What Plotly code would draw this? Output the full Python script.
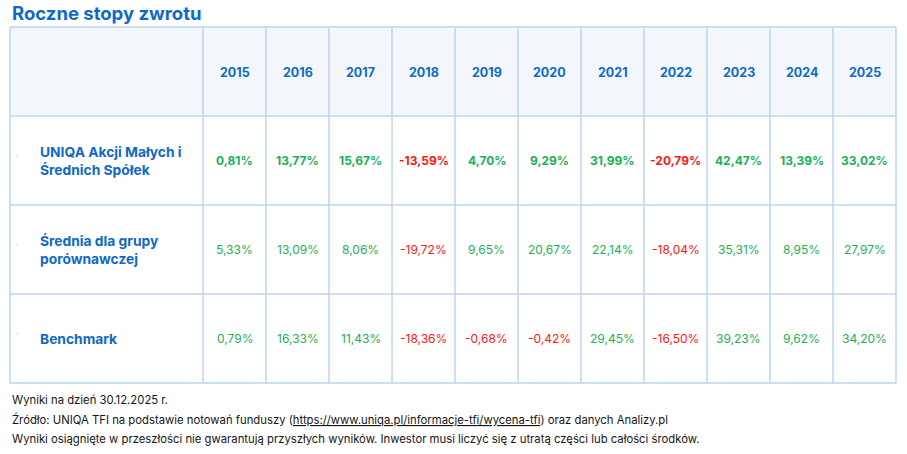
import plotly.graph_objects as go

# table content
years = ["2015", "2016", "2017", "2018", "2019", "2020", "2021", "2022", "2023", "2024", "2025"]
row_labels = ["UNIQA Akcji Małych i<br>Średnich Spółek",
              "Średnia dla grupy<br>porównawczej",
              "Benchmark"]
fund = [0.81, 13.77, 15.67, -13.59, 4.70, 9.29, 31.99, -20.79, 42.47, 13.39, 33.02]
peer_group = [5.33, 13.09, 8.06, -19.72, 9.65, 20.67, 22.14, -18.04, 35.31, 8.95, 27.97]
benchmark = [0.79, 16.33, 11.43, -18.36, -0.68, -0.42, 29.45, -16.50, 39.23, 9.62, 34.20]
rows = [fund, peer_group, benchmark]
bold_rows = [True, False, False]

title = "Roczne stopy zwrotu"
notes = [
    "Wyniki na dzień 30.12.2025 r.",
    "Źródło: UNIQA TFI na podstawie notowań funduszy (<span style='text-decoration:underline'>https://www.uniqa.pl/informacje-tfi/wycena-tfi</span>) oraz danych Analizy.pl",
    "Wyniki osiągnięte w przeszłości nie gwarantują przyszłych wyników. Inwestor musi liczyć się z utratą części lub całości środków.",
]

BLUE = "#0f69c6"
GREEN = "#1bb056"
RED = "#ff1515"
BORDER = "#bcd5f1"
HEAD_BG = "#f3f7fc"
FONT = "Inter"

# geometry in pixels (axes are 1:1 with the figure)
x0, top = 10, 27
label_w, col_w, row_h = 193, 63, 89


def fmt(v):
    return ("%.2f%%" % v).replace(".", ",")


fig = go.Figure()
shapes = []
annotations = []

n_cols = len(years)
right = x0 + label_w + n_cols * col_w
bottom = top + row_h * (len(rows) + 1)

# header background
shapes.append(dict(type="rect", xref="x", yref="y", x0=x0, x1=right, y0=top, y1=top + row_h,
                   fillcolor=HEAD_BG, line_width=0, layer="below"))

# grid lines
col_edges = [x0, x0 + label_w] + [x0 + label_w + (i + 1) * col_w for i in range(n_cols)]
for cx in col_edges:
    shapes.append(dict(type="line", xref="x", yref="y", x0=cx, x1=cx, y0=top, y1=bottom,
                       line=dict(color=BORDER, width=1.5)))
for r in range(len(rows) + 2):
    ry = top + r * row_h
    shapes.append(dict(type="line", xref="x", yref="y", x0=x0, x1=right, y0=ry, y1=ry,
                       line=dict(color=BORDER, width=1.5)))

# header years
for i, yr in enumerate(years):
    cx = x0 + label_w + (i + 0.5) * col_w
    annotations.append(dict(x=cx, y=top + row_h / 2 + 0.5, text="<b>%s</b>" % yr, showarrow=False,
                            font=dict(family=FONT, size=12.5, color=BLUE)))

# rows
for r, (label, vals) in enumerate(zip(row_labels, rows)):
    cy = top + (r + 1.5) * row_h
    annotations.append(dict(x=38, y=cy, text="<b>%s</b>" % label, showarrow=False, xanchor="left",
                            align="left", font=dict(family=FONT, size=13.8, color=BLUE)))
    annotations.append(dict(x=17, y=cy - 6, text="•", showarrow=False,
                            font=dict(family=FONT, size=8, color="#e6ecf3")))
    for i, v in enumerate(vals):
        cx = x0 + label_w + (i + 0.5) * col_w
        txt = fmt(v)
        if bold_rows[r]:
            txt = "<b>%s</b>" % txt
        annotations.append(dict(x=cx, y=cy, text=txt, showarrow=False,
                                font=dict(family=FONT, size=12, color=GREEN if v >= 0 else RED)))

# title and footnotes
annotations.append(dict(x=10, y=12.5, text="<b>%s</b>" % title, showarrow=False, xanchor="left",
                        font=dict(family=FONT, size=18.5, color=BLUE)))
for k, line in enumerate(notes):
    annotations.append(dict(x=10, y=400 + k * 19.3, text=line, showarrow=False, xanchor="left",
                            font=dict(family=FONT, size=11.3, color="#151515")))

for a in annotations:
    a.setdefault("xref", "x")
    a.setdefault("yref", "y")

fig.update_layout(
    width=907, height=454,
    margin=dict(l=0, r=0, t=0, b=0),
    paper_bgcolor="white", plot_bgcolor="white",
    xaxis=dict(range=[0, 907], visible=False, fixedrange=True),
    yaxis=dict(range=[454, 0], visible=False, fixedrange=True),
    shapes=shapes, annotations=annotations,
    showlegend=False,
)

# drop the default 8px body margin so the figure sits at the window corner
fig.write_html("out.html", config={"displayModeBar": False},
               post_script="document.body.style.margin='0';")
